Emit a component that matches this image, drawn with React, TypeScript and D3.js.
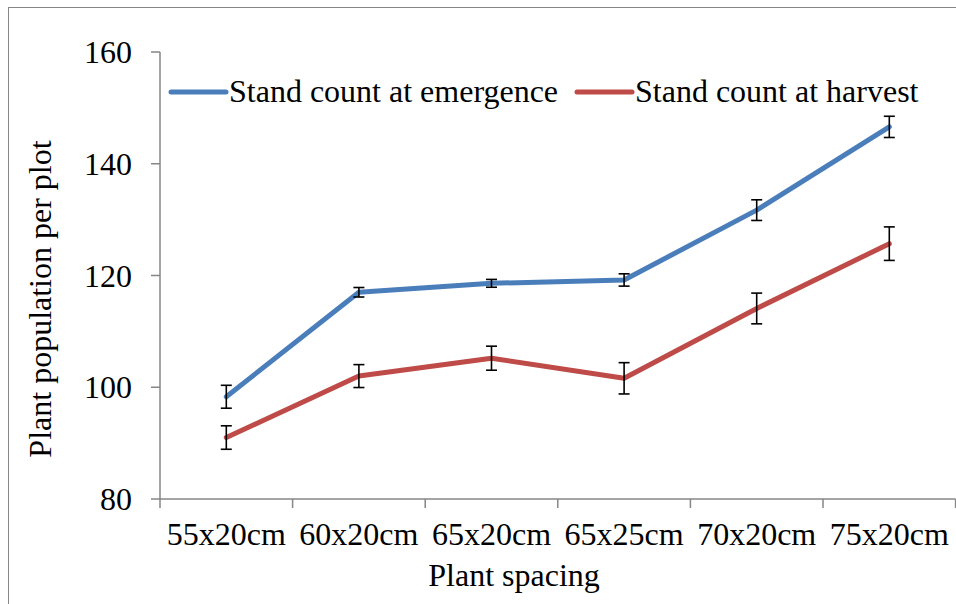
import { useEffect, useRef } from 'react';
import * as d3 from 'd3';

// categories and series
const spacings = ['55x20cm', '60x20cm', '65x20cm', '65x25cm', '70x20cm', '75x20cm'];
const emergence = [98.3, 117.0, 118.6, 119.2, 131.7, 146.6];
const emergenceErr = [2.05, 0.85, 0.7, 1.1, 1.85, 1.9];
const harvest = [91.0, 102.0, 105.2, 101.6, 114.1, 125.7];
const harvestErr = [2.1, 2.05, 2.15, 2.8, 2.75, 3.0];
const yTicks = [80, 100, 120, 140, 160];

const W = 956;
const H = 604;
const FONT = '"Liberation Serif", "Times New Roman", serif';
const FS = 32;
const BLUE = '#4a7ebb';
const RED = '#be4b48';
const AXIS = '#868686';

export default function App() {
  const svgRef = useRef<SVGSVGElement>(null);

  useEffect(() => {
    if (!svgRef.current) return;
    const svg = d3.select(svgRef.current);
    svg.selectAll('*').remove();

    const left = 160;
    const right = 955.6;
    const top = 52;
    const bottom = 499;

    const x = d3.scaleBand().domain(spacings).range([left, right]);
    const y = d3.scaleLinear().domain([80, 160]).range([bottom, top]);

    // outer frame
    svg.append('rect')
      .attr('x', 8.5).attr('y', 7.5)
      .attr('width', 960).attr('height', 620)
      .attr('fill', 'none').attr('stroke', AXIS).attr('stroke-width', 1);

    // y axis
    svg.append('line')
      .attr('x1', left).attr('x2', left).attr('y1', top).attr('y2', bottom)
      .attr('stroke', AXIS).attr('stroke-width', 1.5);
    svg.append('g').selectAll('line').data(yTicks).enter().append('line')
      .attr('x1', left - 9).attr('x2', left)
      .attr('y1', d => y(d)).attr('y2', d => y(d))
      .attr('stroke', AXIS).attr('stroke-width', 1.5);
    svg.append('g').selectAll('text').data(yTicks).enter().append('text')
      .attr('x', left - 28).attr('y', d => y(d))
      .attr('text-anchor', 'end').attr('dominant-baseline', 'central')
      .attr('font-family', FONT).attr('font-size', FS)
      .text(d => d);

    // x axis
    svg.append('line')
      .attr('x1', left).attr('x2', right).attr('y1', bottom).attr('y2', bottom)
      .attr('stroke', AXIS).attr('stroke-width', 1.5);
    const bounds = spacings.map(s => x(s)!).concat([right]);
    svg.append('g').selectAll('line').data(bounds).enter().append('line')
      .attr('x1', d => d).attr('x2', d => d)
      .attr('y1', bottom).attr('y2', bottom + 9)
      .attr('stroke', AXIS).attr('stroke-width', 1.5);
    svg.append('g').selectAll('text').data(spacings).enter().append('text')
      .attr('x', d => x(d)! + x.bandwidth() / 2).attr('y', 545)
      .attr('text-anchor', 'middle')
      .attr('font-family', FONT).attr('font-size', FS)
      .text(d => d);

    // axis titles
    svg.append('text')
      .attr('x', 514).attr('y', 586)
      .attr('text-anchor', 'middle')
      .attr('font-family', FONT).attr('font-size', FS)
      .text('Plant spacing');
    svg.append('text')
      .attr('transform', 'translate(51,299) rotate(-90)')
      .attr('text-anchor', 'middle')
      .attr('font-family', FONT).attr('font-size', FS)
      .text('Plant population per plot');

    const cx = (s: string) => x(s)! + x.bandwidth() / 2;
    const series = [
      { values: emergence, errs: emergenceErr, color: BLUE },
      { values: harvest, errs: harvestErr, color: RED },
    ];

    const line = d3.line<number>()
      .x((_, i) => cx(spacings[i]))
      .y(d => y(d));

    series.forEach(s => {
      svg.append('path')
        .attr('d', line(s.values))
        .attr('fill', 'none')
        .attr('stroke', s.color)
        .attr('stroke-width', 5)
        .attr('stroke-linejoin', 'round')
        .attr('stroke-linecap', 'round');

      const eb = svg.append('g').attr('stroke', '#000').attr('stroke-width', 1.6);
      s.values.forEach((v, i) => {
        const px = cx(spacings[i]);
        const hi = y(v + s.errs[i]);
        const lo = y(v - s.errs[i]);
        eb.append('line').attr('x1', px).attr('x2', px).attr('y1', hi).attr('y2', lo);
        eb.append('line').attr('x1', px - 5.5).attr('x2', px + 5.5).attr('y1', hi).attr('y2', hi);
        eb.append('line').attr('x1', px - 5.5).attr('x2', px + 5.5).attr('y1', lo).attr('y2', lo);
      });
    });

    // legend
    const legend = [
      { label: 'Stand count at emergence', color: BLUE, x0: 171 },
      { label: 'Stand count at harvest', color: RED, x0: 577 },
    ];
    legend.forEach(l => {
      svg.append('line')
        .attr('x1', l.x0).attr('x2', l.x0 + 55).attr('y1', 92).attr('y2', 92)
        .attr('stroke', l.color).attr('stroke-width', 5).attr('stroke-linecap', 'round');
      svg.append('text')
        .attr('x', l.x0 + 58).attr('y', 102)
        .attr('font-family', FONT).attr('font-size', FS)
        .text(l.label);
    });
  }, []);

  return (
    <svg
      ref={svgRef}
      width={W}
      height={H}
      style={{ position: 'absolute', left: 0, top: 0, background: '#fff' }}
    />
  );
}
